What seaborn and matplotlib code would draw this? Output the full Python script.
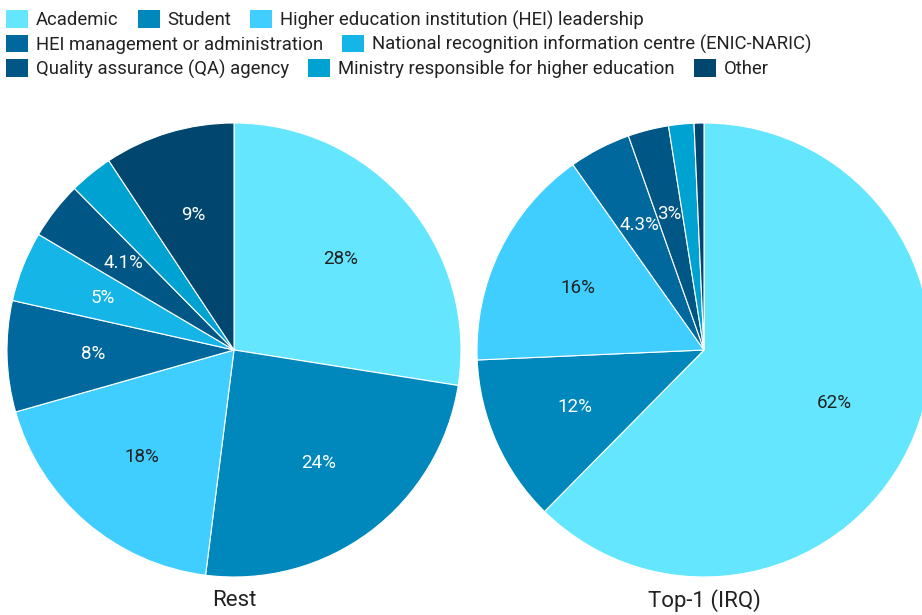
import matplotlib
matplotlib.use("Agg")
import numpy as np
import matplotlib.pyplot as plt
import matplotlib.patches as mpatches
import seaborn as sns

# dados (fatias em % no sentido horario a partir do topo)
categorias = [
    "Academic",
    "Student",
    "Higher education institution (HEI) leadership",
    "HEI management or administration",
    "National recognition information centre (ENIC-NARIC)",
    "Quality assurance (QA) agency",
    "Ministry responsible for higher education",
    "Other",
]
cores = ["#64e6ff", "#0088bd", "#40cdff", "#00689c", "#16b5e8", "#005684", "#00a2d2", "#00466f"]

valores_rest = [27.5, 24.5, 18.6, 7.9, 5.0, 4.1, 3.1, 9.3]
rotulos_rest = ["28%", "24%", "18%", "8%", "5%", "4.1%", "", "9%"]

valores_top1 = [62.4, 11.9, 15.9, 4.4, 0.0, 2.9, 1.8, 0.7]
rotulos_top1 = ["62%", "12%", "16%", "4.3%", "", "3%", "", ""]

# cores de texto: escuro nas fatias claras, branco nas demais
texto_escuro = {"Academic", "Higher education institution (HEI) leadership"}

linhas_legenda = [
    ["Academic", "Student", "Higher education institution (HEI) leadership"],
    ["HEI management or administration", "National recognition information centre (ENIC-NARIC)"],
    ["Quality assurance (QA) agency", "Ministry responsible for higher education", "Other"],
]

sns.set_theme(style="white")
plt.rcParams["font.family"] = ["Roboto", "DejaVu Sans"]


def desenhar_pizza(ax, valores, rotulos):
    itens = [(c, v, r, cor) for c, v, r, cor in zip(categorias, valores, rotulos, cores) if v > 0]
    fatias, _ = ax.pie(
        [i[1] for i in itens],
        colors=[i[3] for i in itens],
        startangle=90,
        counterclock=False,
        wedgeprops=dict(edgecolor="white", linewidth=0.8),
    )
    for fatia, (cat, _, rot, _) in zip(fatias, itens):
        if not rot:
            continue
        ang = np.deg2rad((fatia.theta1 + fatia.theta2) / 2)
        ax.text(
            0.62 * np.cos(ang), 0.62 * np.sin(ang), rot,
            ha="center", va="center", fontsize=13.5,
            color="#222222" if cat in texto_escuro else "white",
        )
    ax.set_aspect("equal")


fig = plt.figure(figsize=(9.22, 6.15), dpi=100)

ax1 = fig.add_axes([7 / 922, 38 / 615, 454 / 922, 454 / 615])
ax2 = fig.add_axes([477 / 922, 38 / 615, 454 / 922, 454 / 615])
desenhar_pizza(ax1, valores_rest, rotulos_rest)
desenhar_pizza(ax2, valores_top1, rotulos_top1)
for ax in (ax1, ax2):
    ax.set_xlim(-1, 1)
    ax.set_ylim(-1, 1)

fig.text(234 / 922, 1 - 601 / 615, "Rest", ha="center", va="center", fontsize=16, color="#222222")
fig.text(704 / 922, 1 - 601 / 615, "Top-1 (IRQ)", ha="center", va="center", fontsize=16, color="#222222")

mapa_cor = dict(zip(categorias, cores))
for i, linha in enumerate(linhas_legenda):
    handles = [mpatches.Patch(facecolor=mapa_cor[c], edgecolor="none", label=c) for c in linha]
    fig.legend(
        handles=handles,
        loc="center left",
        bbox_to_anchor=(6 / 922, 1 - (20 + i * 24.5) / 615),
        ncol=len(linha),
        frameon=False,
        fontsize=13.3,
        handlelength=1.19,
        handleheight=1.08,
        handletextpad=0.43,
        columnspacing=1.03,
        borderpad=0,
        borderaxespad=0,
        labelcolor="#222222",
    )

fig.savefig("out.png", dpi=100)
